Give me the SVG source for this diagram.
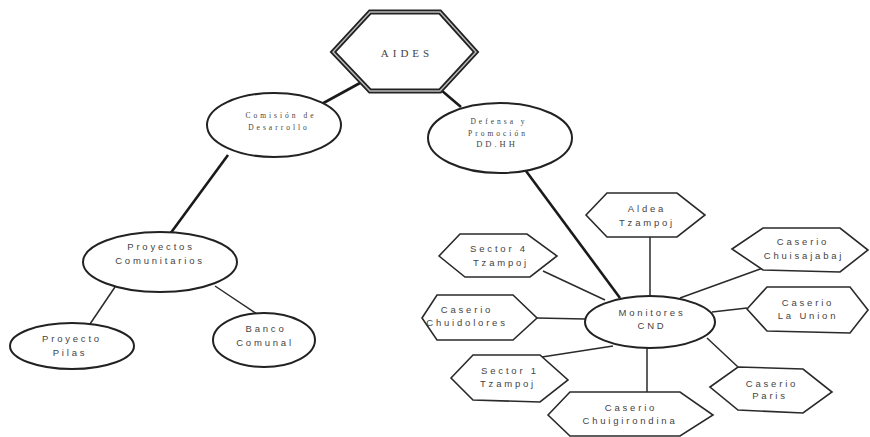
<svg xmlns="http://www.w3.org/2000/svg" width="870" height="437" viewBox="0 0 870 437">
<style>
.bg{fill:#fff}
.ell{fill:#fff;stroke:#222;stroke-width:2}
.hex{fill:#fff;stroke:#2a2a2a;stroke-width:1.6;stroke-linejoin:miter}
.t{font-family:"Liberation Sans",Arial,sans-serif;font-size:9.5px;fill:#444;letter-spacing:2.8px;text-anchor:middle}
.ts{font-family:"Liberation Serif","Times New Roman",serif;font-size:7.5px;fill:#444;letter-spacing:3px;text-anchor:middle}
.tt{font-family:"Liberation Serif","Times New Roman",serif;font-size:11px;fill:#444;letter-spacing:4px;text-anchor:middle}
.thick{stroke:#1a1a1a;stroke-width:2.6;fill:none}
.thin{stroke:#2a2a2a;stroke-width:1.5;fill:none}
</style>
<rect class="bg" x="0" y="0" width="870" height="437"/>
<g id="connectors">
<line class="thick" x1="360" y1="83" x2="318" y2="106"/>
<line class="thick" x1="441" y1="90" x2="461" y2="107"/>
<line class="thick" x1="228" y1="155" x2="170" y2="234"/>
<line class="thick" x1="526" y1="171" x2="620" y2="298"/>
<line class="thin" x1="115" y1="287" x2="90" y2="324"/>
<line class="thin" x1="215" y1="286" x2="257" y2="314"/>
<line class="thin" x1="650" y1="237" x2="650" y2="296"/>
<line class="thin" x1="763" y1="268" x2="680" y2="298"/>
<line class="thin" x1="543" y1="271" x2="605" y2="300"/>
<line class="thin" x1="537" y1="318" x2="585" y2="319"/>
<line class="thin" x1="712" y1="312" x2="747" y2="308"/>
<line class="thin" x1="542" y1="357" x2="613" y2="346"/>
<line class="thin" x1="647" y1="348" x2="647" y2="392"/>
<line class="thin" x1="707" y1="338" x2="738" y2="367"/>
</g>
<g id="aides">
<polygon points="370,12 440,12 476,52 440,91 370,91 333,52" fill="#fff" stroke="#222" stroke-width="5" stroke-linejoin="miter"/>
<polygon points="370,12 440,12 476,52 440,91 370,91 333,52" fill="none" stroke="#bbb" stroke-width="1.4" stroke-linejoin="miter"/>
<text class="tt" x="407" y="57">AIDES</text>
</g>
<g id="comision">
<ellipse class="ell" cx="274" cy="125" rx="67" ry="32"/>
<text class="ts" x="281" y="118">Comisión de</text>
<text class="ts" x="279" y="130">Desarrollo</text>
</g>
<g id="defensa">
<ellipse class="ell" cx="500" cy="138" rx="72" ry="35"/>
<text class="ts" x="499" y="124">Defensa y</text>
<text class="ts" x="498" y="136">Promoción</text>
<text class="ts" x="497" y="147" style="font-size:8.5px">DD.HH</text>
</g>
<g id="proyectos">
<ellipse class="ell" cx="160" cy="262" rx="77" ry="30"/>
<text class="t" x="161" y="250">Proyectos</text>
<text class="t" x="160" y="264">Comunitarios</text>
</g>
<g id="pilas">
<ellipse class="ell" cx="72" cy="346" rx="62" ry="23"/>
<text class="t" x="72" y="342">Proyecto</text>
<text class="t" x="70" y="356">Pilas</text>
</g>
<g id="banco">
<ellipse class="ell" cx="264" cy="340" rx="51" ry="27"/>
<text class="t" x="266" y="332">Banco</text>
<text class="t" x="265" y="346">Comunal</text>
</g>
<g id="monitores">
<ellipse class="ell" cx="650" cy="322" rx="65" ry="26"/>
<text class="t" x="652" y="316">Monitores</text>
<text class="t" x="652" y="329">CND</text>
</g>
<g id="aldea">
<polygon class="hex" points="586,215 607,193 677,193 705,215 677,237 607,237"/>
<text class="t" x="647" y="212">Aldea</text>
<text class="t" x="647" y="226">Tzampoj</text>
</g>
<g id="chuisajabaj">
<polygon class="hex" points="732,249 763,228 840,228 868,250 840,272 763,270"/>
<text class="t" x="803" y="245">Caserio</text>
<text class="t" x="804" y="259">Chuisajabaj</text>
</g>
<g id="sector4">
<polygon class="hex" points="439,256 460,234 527,234 557,256 530,277 465,277"/>
<text class="t" x="499" y="252">Sector 4</text>
<text class="t" x="501" y="266">Tzampoj</text>
</g>
<g id="chuidolores">
<polygon class="hex" points="422,318 437,295 513,295 537,318 513,340 437,340"/>
<text class="t" x="467" y="313">Caserio</text>
<text class="t" x="467" y="326">Chuidolores</text>
</g>
<g id="launion">
<polygon class="hex" points="747,309 767,287 850,287 868,310 850,333 767,331"/>
<text class="t" x="808" y="306">Caserio</text>
<text class="t" x="808" y="319">La Union</text>
</g>
<g id="sector1">
<polygon class="hex" points="451,378 473,355 540,355 568,380 540,402 473,400"/>
<text class="t" x="510" y="374">Sector 1</text>
<text class="t" x="508" y="387">Tzampoj</text>
</g>
<g id="chuigirondina">
<polygon class="hex" points="548,415 570,392 680,392 713,415 680,436 570,436"/>
<text class="t" x="631" y="411">Caserio</text>
<text class="t" x="630" y="424">Chuigirondina</text>
</g>
<g id="paris">
<polygon class="hex" points="710,387 738,367 803,369 832,392 803,413 738,410"/>
<text class="t" x="772" y="387">Caserio</text>
<text class="t" x="770" y="399">Paris</text>
</g>
</svg>
